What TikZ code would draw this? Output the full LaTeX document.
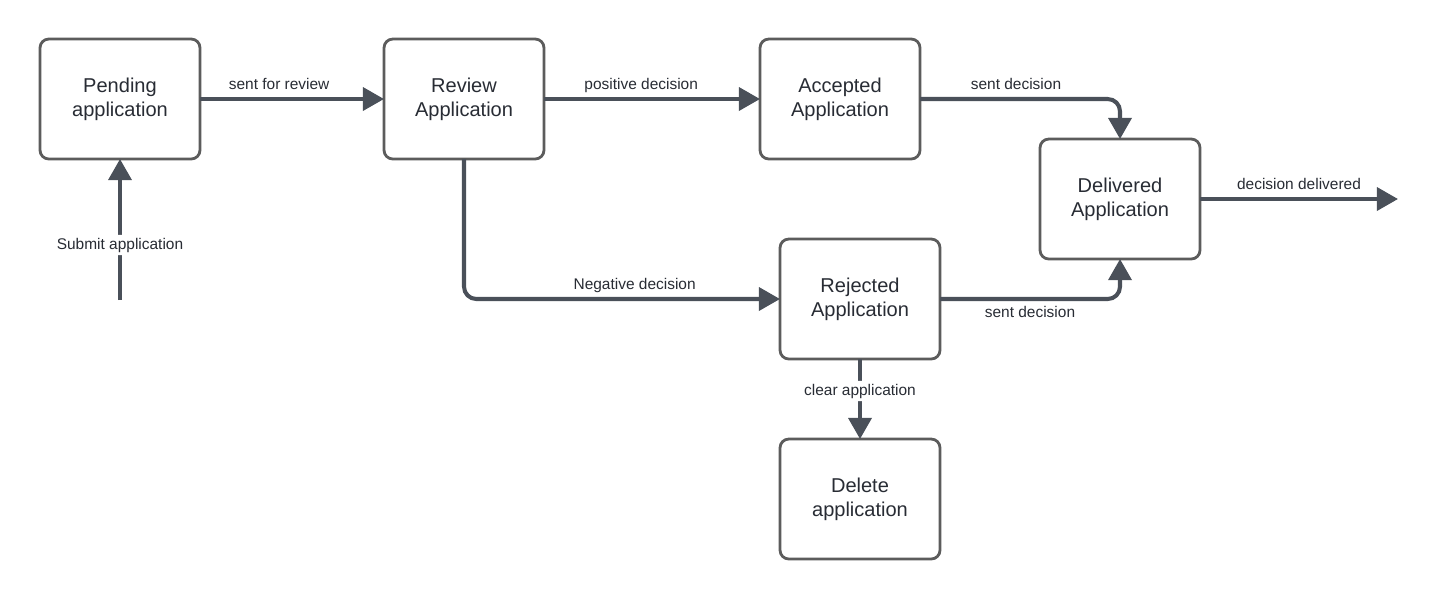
\documentclass[tikz,border=0pt]{standalone}
\usepackage{fontspec}
\setmainfont{Liberation Sans}
\usepackage{xcolor}
\usetikzlibrary{arrows.meta}

\definecolor{boxline}{RGB}{92,92,92}
\definecolor{connline}{RGB}{74,80,89}
\definecolor{txt}{RGB}{40,44,52}

\tikzset{
  state/.style={draw=boxline, line width=1.6pt, rounded corners=5pt, fill=white,
    minimum width=3.2cm, minimum height=2.4cm, align=center, text=txt,
    font=\fontsize{11.4}{13.6}\selectfont, outer sep=0pt},
  conn/.style={draw=connline, line width=2.3pt, rounded corners=7pt,
    -{Triangle[length=12pt,width=13pt]}},
  lbl/.style={text=txt, font=\fontsize{8.8}{10}\selectfont, inner sep=1.5pt,
    text height=6.6pt, text depth=1.9pt}
}

\begin{document}
\begin{tikzpicture}[x=0.02cm, y=-0.02cm]

\useasboundingbox (0,0) rectangle (1432,600);

% States
\node[state] (pend) at (120,99) {Pending\\application};      % Pending
\node[state] (rev)  at (464,99) {Review\\Application};       % Review
\node[state] (acc)  at (840,99) {Accepted\\Application};     % Accepted
\node[state] (dlv)  at (1120,199) {Delivered\\Application};  % Delivered
\node[state] (rej)  at (860,299) {Rejected\\Application};    % Rejected
\node[state] (dele) at (860,499) {Delete\\application};      % Delete

% Free ends
\coordinate (start) at (120,300);   % Entry
\coordinate (exit)  at (1398,199);  % Exit

% Transitions
\draw[conn] (start) -- (pend) node[lbl, fill=white, pos=0.39] {Submit application};
\draw[conn] (pend) -- (rev) node[lbl, above=1pt, pos=0.43] {sent for review};
\draw[conn] (rev) -- (acc) node[lbl, above=1pt, pos=0.45] {positive decision};
\draw[conn] (acc.east) -| (dlv.north) node[lbl, above=1pt, pos=0.24] {sent decision};
\draw[conn] (rev.south) |- (rej.west) node[lbl, above=1pt, pos=0.77] {Negative decision};
\draw[conn] (rej.east) -| (dlv.south) node[lbl, below=1pt, pos=0.25] {sent decision};
\draw[conn] (dlv) -- (exit) node[lbl, above=1pt, midway] {decision delivered};
\draw[conn] (rej) -- (dele) node[lbl, fill=white, pos=0.4] {clear application};

\end{tikzpicture}
\end{document}
